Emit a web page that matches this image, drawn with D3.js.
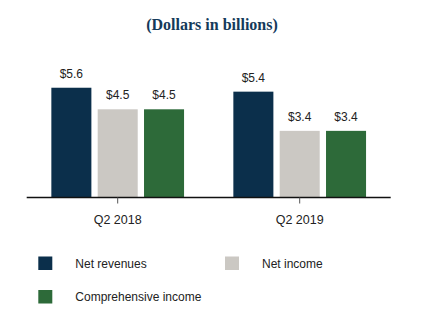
<!DOCTYPE html>
<html><head><meta charset="utf-8">
<script src="https://cdn.jsdelivr.net/npm/d3@7"></script>
<style>body{margin:0;background:#fff}svg{display:block}</style>
</head><body>
<svg id="c" width="424" height="333"></svg>
<script>
const categories = ["Q2 2018", "Q2 2019"];
const seriesNames = ["Net revenues", "Net income", "Comprehensive income"];
const netRevenues = [5.6, 5.4];
const netIncome = [4.5, 3.4];
const comprehensiveIncome = [4.5, 3.4];
const valueLabels = [["$5.6","$4.5","$4.5"],["$5.4","$3.4","$3.4"]];
const colors = ["#0b2f4b", "#cbc8c3", "#2d6a39"];

const svg = d3.select("#c");
const baseY = 197.5;
const y = d3.scaleLinear().domain([0, 6]).range([baseY, baseY - 6 * 19.6]);
const x0 = d3.scaleBand().domain(categories).range([26.7, 390.7]).padding(0);
const groupW = 132.7;
const x1 = d3.scaleBand().domain(seriesNames).range([0, groupW]).paddingInner(0.136).paddingOuter(0);

svg.append("text").attr("x", 212).attr("y", 30).attr("text-anchor", "middle")
  .attr("font-family", "Liberation Serif, serif").attr("font-weight", "bold")
  .attr("font-size", 16).attr("fill", "#143a5a").text("(Dollars in billions)");

const series = [netRevenues, netIncome, comprehensiveIncome];
const groups = svg.append("g").selectAll("g").data(categories).join("g")
  .attr("transform", d => `translate(${x0(d) + x0.bandwidth()/2 - groupW/2},0)`);

groups.each(function(cat, ci) {
  const g = d3.select(this);
  seriesNames.forEach((s, si) => {
    const v = series[si][ci];
    g.append("rect").attr("x", x1(s)).attr("y", y(v))
      .attr("width", x1.bandwidth()).attr("height", y(0) - y(v)).attr("fill", colors[si]);
    g.append("text").attr("x", x1(s) + x1.bandwidth()/2).attr("y", y(v) - 10)
      .attr("text-anchor", "middle").attr("font-family", "Liberation Sans, Arial, sans-serif")
      .attr("font-size", 12).attr("fill", "#222").text(valueLabels[ci][si]);
  });
});

const axis = d3.axisBottom(x0).tickSize(6).tickPadding(12);
const ag = svg.append("g").attr("transform", `translate(0,${baseY})`).call(axis);
ag.select(".domain").attr("stroke", "#111").attr("stroke-width", 1.5).attr("d", "M26.7,0H390.7");
ag.selectAll(".tick line").attr("stroke", "#555");
ag.selectAll(".tick text").attr("font-family", "Liberation Sans, Arial, sans-serif")
  .attr("font-size", 12.5).attr("fill", "#222");

const legendPos = [[38.3, 256.5], [225, 256.5], [38.3, 290]];
const lg = svg.append("g");
seriesNames.forEach((s, i) => {
  const [lx, ly] = legendPos[i];
  lg.append("rect").attr("x", lx).attr("y", ly).attr("width", 14).attr("height", 13.5).attr("fill", colors[i]);
  lg.append("text").attr("x", lx + 37).attr("y", ly + 11)
    .attr("font-family", "Liberation Sans, Arial, sans-serif").attr("font-size", 12)
    .attr("fill", "#222").text(s);
});
</script>
</body></html>
